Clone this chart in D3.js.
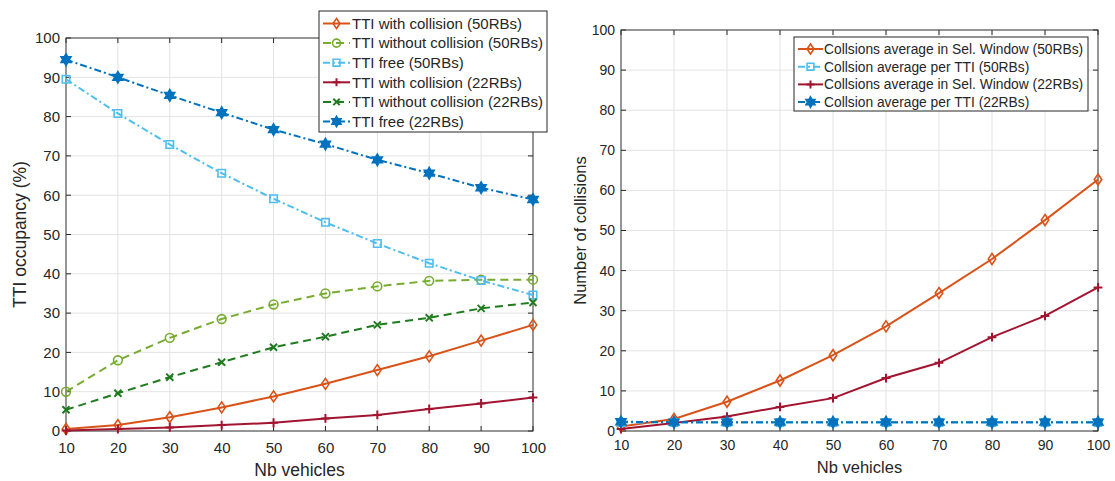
<!DOCTYPE html>
<html>
<head>
<meta charset="utf-8">
<script src="https://cdn.jsdelivr.net/npm/d3@7"></script>
<style>
  html, body { margin: 0; padding: 0; background: #fff; }
  svg { display: block; font-family: "Liberation Sans", Arial, sans-serif; }
</style>
</head>
<body>
<svg id="chart" width="1115" height="481"></svg>
<script>
// ---------------- DATA ----------------
const vehicles = [10, 20, 30, 40, 50, 60, 70, 80, 90, 100];
const yTicks = [0, 10, 20, 30, 40, 50, 60, 70, 80, 90, 100];

// Left chart: TTI occupancy (%)
const ttiWithCollision50 = [0.5, 1.5, 3.5, 6.0, 8.8, 12.0, 15.5, 19.0, 23.0, 27.0];
const ttiWithoutCollision50 = [10.0, 18.0, 23.7, 28.5, 32.2, 35.0, 36.8, 38.2, 38.5, 38.5];
const ttiFree50 = [89.5, 80.8, 72.9, 65.6, 59.1, 53.1, 47.7, 42.7, 38.3, 34.6];
const ttiWithCollision22 = [0.1, 0.5, 0.9, 1.5, 2.1, 3.2, 4.1, 5.6, 7.0, 8.5];
const ttiWithoutCollision22 = [5.4, 9.6, 13.7, 17.5, 21.3, 24.0, 27.0, 28.8, 31.2, 32.7];
const ttiFree22 = [94.5, 90.0, 85.4, 81.0, 76.7, 73.0, 69.0, 65.6, 61.9, 58.9];

const leftNames = [
  "TTI with collision (50RBs)",
  "TTI without collision (50RBs)",
  "TTI free (50RBs)",
  "TTI with collision (22RBs)",
  "TTI without collision (22RBs)",
  "TTI free (22RBs)"
];

// Right chart: Number of collisions
const collSelWindow50 = [1.1, 3.0, 7.3, 12.6, 18.9, 26.1, 34.4, 42.9, 52.6, 62.7];
const collPerTTI50 = [2.1, 2.1, 2.1, 2.1, 2.1, 2.1, 2.1, 2.1, 2.1, 2.1];
const collSelWindow22 = [0.5, 2.0, 3.6, 6.0, 8.2, 13.2, 17.0, 23.4, 28.7, 35.8];
const collPerTTI22 = [2.3, 2.2, 2.2, 2.2, 2.2, 2.2, 2.2, 2.2, 2.2, 2.2];

const rightNames = [
  "Collsions average in Sel. Window (50RBs)",
  "Collsion average per TTI (50RBs)",
  "Collsions average in Sel. Window (22RBs)",
  "Collsion average per TTI (22RBs)"
];

// ---------------- STYLES ----------------
const C = {
  orange: "#D95319", lgreen: "#77AC30", lblue: "#4DBEEE",
  dred: "#A2142F", dgreen: "#1E7B1E", blue: "#0072BD"
};
const DASH = "8,5";
const DASHDOT = "7,3,2,3";

const leftSeries = [
  { v: ttiWithCollision50, color: C.orange, dash: null, marker: "diamond" },
  { v: ttiWithoutCollision50, color: C.lgreen, dash: DASH, marker: "circle" },
  { v: ttiFree50, color: C.lblue, dash: DASHDOT, marker: "square" },
  { v: ttiWithCollision22, color: C.dred, dash: null, marker: "plus" },
  { v: ttiWithoutCollision22, color: C.dgreen, dash: DASH, marker: "cross" },
  { v: ttiFree22, color: C.blue, dash: DASHDOT, marker: "hexagram" }
];
const rightSeries = [
  { v: collSelWindow50, color: C.orange, dash: null, marker: "diamond" },
  { v: collPerTTI50, color: C.lblue, dash: DASHDOT, marker: "square" },
  { v: collSelWindow22, color: C.dred, dash: null, marker: "plus" },
  { v: collPerTTI22, color: C.blue, dash: DASHDOT, marker: "hexagram" }
];

const svg = d3.select("#chart");
const TEXT = "#262626";

function markerPath(type, r) {
  const p = d3.path();
  if (type === "diamond") {
    p.moveTo(0, -r * 1.25); p.lineTo(r * 0.85, 0); p.lineTo(0, r * 1.25); p.lineTo(-r * 0.85, 0); p.closePath();
  } else if (type === "circle") {
    p.moveTo(r, 0); p.arc(0, 0, r, 0, 2 * Math.PI);
  } else if (type === "square") {
    p.rect(-r * 0.85, -r * 0.85, r * 1.7, r * 1.7);
  } else if (type === "plus") {
    p.moveTo(-r, 0); p.lineTo(r, 0); p.moveTo(0, -r); p.lineTo(0, r);
  } else if (type === "cross") {
    const a = r * 0.8;
    p.moveTo(-a, -a); p.lineTo(a, a); p.moveTo(-a, a); p.lineTo(a, -a);
  } else if (type === "hexagram") {
    const R = r * 1.3, ri = R / Math.sqrt(3);
    for (let i = 0; i < 12; i++) {
      const ang = -Math.PI / 2 + i * Math.PI / 6;
      const rr = i % 2 === 0 ? R : ri;
      const x = rr * Math.cos(ang), y = rr * Math.sin(ang);
      if (i === 0) p.moveTo(x, y); else p.lineTo(x, y);
    }
    p.closePath();
  }
  return p.toString();
}

function drawMarker(g, type, color, x, y, r) {
  const filled = type === "hexagram";
  g.append("path")
    .attr("d", markerPath(type, r))
    .attr("transform", `translate(${x},${y})`)
    .attr("fill", filled ? color : "none")
    .attr("stroke", color)
    .attr("stroke-width", type === "plus" || type === "cross" ? 2 : 1.6);
}

function drawPanel(opts) {
  const { left, right, top, bottom, series, names, tickFont, labelFont, yLabel,
          legend, yLabelX, xLabelY, tickLabelY } = opts;
  const x = d3.scaleLinear().domain([10, 100]).range([left, right]);
  const y = d3.scaleLinear().domain([0, 100]).range([bottom, top]);
  const g = svg.append("g");

  // grid
  g.append("g").selectAll("line").data(vehicles).join("line")
    .attr("x1", d => x(d)).attr("x2", d => x(d)).attr("y1", top).attr("y2", bottom)
    .attr("stroke", "#e3e3e3").attr("stroke-width", 1);
  g.append("g").selectAll("line").data(yTicks).join("line")
    .attr("y1", d => y(d)).attr("y2", d => y(d)).attr("x1", left).attr("x2", right)
    .attr("stroke", "#e3e3e3").attr("stroke-width", 1);

  // axes with D3
  const xAxis = d3.axisBottom(x).tickValues(vehicles).tickSize(0).tickPadding(tickLabelY);
  const yAxis = d3.axisLeft(y).tickValues(yTicks).tickSize(0).tickPadding(6);
  const xg = g.append("g").attr("transform", `translate(0,${bottom})`).call(xAxis);
  const yg = g.append("g").attr("transform", `translate(${left},0)`).call(yAxis);
  [xg, yg].forEach(a => {
    a.select(".domain").remove();
    a.selectAll("text").attr("fill", TEXT).style("font-size", tickFont + "px")
      .style("font-family", '"Liberation Sans", Arial, sans-serif');
  });

  // inward tick marks on all four sides
  const tl = 5;
  const tk = g.append("g").attr("stroke", "#262626").attr("stroke-width", 1);
  vehicles.forEach(d => {
    tk.append("line").attr("x1", x(d)).attr("x2", x(d)).attr("y1", bottom).attr("y2", bottom - tl);
    tk.append("line").attr("x1", x(d)).attr("x2", x(d)).attr("y1", top).attr("y2", top + tl);
  });
  yTicks.forEach(d => {
    tk.append("line").attr("y1", y(d)).attr("y2", y(d)).attr("x1", left).attr("x2", left + tl);
    tk.append("line").attr("y1", y(d)).attr("y2", y(d)).attr("x1", right).attr("x2", right - tl);
  });

  // box
  g.append("rect").attr("x", left).attr("y", top).attr("width", right - left).attr("height", bottom - top)
    .attr("fill", "none").attr("stroke", "#3a3a3a").attr("stroke-width", 1);

  // series
  const line = d3.line().x((d, i) => x(vehicles[i])).y(d => y(d));
  series.forEach(s => {
    g.append("path").datum(s.v).attr("d", line)
      .attr("fill", "none").attr("stroke", s.color).attr("stroke-width", 2)
      .attr("stroke-dasharray", s.dash);
    s.v.forEach((d, i) => drawMarker(g, s.marker, s.color, x(vehicles[i]), y(d), 4.4));
  });

  // labels
  g.append("text").attr("x", (left + right) / 2).attr("y", xLabelY)
    .attr("text-anchor", "middle").attr("fill", TEXT).style("font-size", labelFont + "px")
    .text("Nb vehicles");
  g.append("text").attr("transform", `translate(${yLabelX},${(top + bottom) / 2}) rotate(-90)`)
    .attr("text-anchor", "middle").attr("fill", TEXT).style("font-size", labelFont + "px")
    .text(yLabel);

  // legend
  const L = legend;
  const lg = svg.append("g");
  lg.append("rect").attr("x", L.x).attr("y", L.y).attr("width", L.w).attr("height", L.h)
    .attr("fill", "#fff").attr("stroke", "#262626").attr("stroke-width", 1);
  names.forEach((n, i) => {
    const s = series[i];
    const cy = L.y + L.first + i * L.step;
    lg.append("line").attr("x1", L.x + 4).attr("x2", L.x + 4 + L.sample)
      .attr("y1", cy).attr("y2", cy).attr("stroke", s.color).attr("stroke-width", 2)
      .attr("stroke-dasharray", s.dash);
    drawMarker(lg, s.marker, s.color, L.x + 4 + L.sample / 2, cy, 4);
    lg.append("text").attr("x", L.x + L.textX).attr("y", cy).attr("dy", "0.35em")
      .attr("fill", TEXT).style("font-size", L.font + "px").text(n);
  });
}

drawPanel({
  left: 66, right: 533, top: 38, bottom: 431,
  series: leftSeries, names: leftNames, tickFont: 15, labelFont: 17.5,
  yLabel: "TTI occupancy (%)", yLabelX: 26, xLabelY: 476, tickLabelY: 11,
  legend: { x: 319, y: 11, w: 228, h: 121, first: 12.5, step: 19.6, sample: 27, textX: 33, font: 15 }
});

drawPanel({
  left: 621, right: 1098, top: 30, bottom: 431,
  series: rightSeries, names: rightNames, tickFont: 14, labelFont: 16.5,
  yLabel: "Number of collisions", yLabelX: 586, xLabelY: 473, tickLabelY: 9,
  legend: { x: 794, y: 37, w: 294, h: 74, first: 12, step: 17.7, sample: 25, textX: 30, font: 13.8 }
});
</script>
</body>
</html>
